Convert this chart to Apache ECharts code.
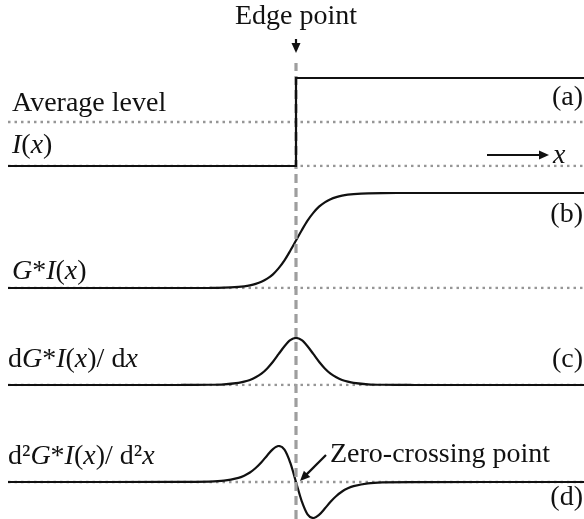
<!DOCTYPE html>
<html>
<head>
<meta charset="utf-8">
<script src="https://cdn.jsdelivr.net/npm/echarts@6/dist/echarts.min.js"></script>
<style>
  html, body { margin: 0; padding: 0; background: #fff; }
  #chart { width: 584px; height: 519px; }
</style>
</head>
<body>
<div id="chart"></div>
<script>
// x positions, edge point at 0
const xs = [-10, -4, -3, -2.5, -2, -1.8, -1.6, -1.4, -1.2, -1, -0.8, -0.6, -0.4, -0.2, 0,
  0.2, 0.4, 0.6, 0.8, 1, 1.2, 1.4, 1.6, 1.8, 2, 2.5, 3, 4, 10]
// (b) smoothed edge G*I(x)
const smoothed = [0, 0, 0.001, 0.004, 0.012, 0.018, 0.028, 0.043, 0.065, 0.098, 0.144, 0.209, 0.291, 0.392, 0.5,
  0.608, 0.709, 0.791, 0.856, 0.902, 0.935, 0.957, 0.972, 0.982, 0.988, 0.996, 0.999, 1, 1]
// (c) first derivative
const firstDeriv = [0, 0.001, 0.005, 0.015, 0.046, 0.071, 0.107, 0.164, 0.242, 0.353, 0.494, 0.661, 0.825, 0.953, 1,
  0.953, 0.825, 0.661, 0.494, 0.353, 0.242, 0.164, 0.107, 0.071, 0.046, 0.015, 0.005, 0.001, 0]
// (d) second derivative
const secondDeriv = [0, 0.001, 0.013, 0.039, 0.116, 0.177, 0.264, 0.389, 0.548, 0.738, 0.913, 1.0, 0.897, 0.535, 0,
  -0.535, -0.897, -1.0, -0.913, -0.738, -0.548, -0.389, -0.264, -0.177, -0.116, -0.039, -0.013, -0.001, 0]
// (a) ideal step I(x)
const stepX = [-10, 0, 0, 10]
const stepY = [0, 0, 1, 1]
// reference levels
const baseX = [-10, 10]
const baseLevel = [0, 0]
const avgLevel = [0.5, 0.5]
const edgeX = [0, 0]
const edgeY = [0, 1]

const pairs = (x, y) => x.map((v, i) => [v, y[i]])

const FONT = 'Liberation Serif'
const SIZE = 28
const INK = '#111'
const GREY = '#969696'

const chart = echarts.init(document.getElementById('chart'))

function dotted(idx, levels) {
  return {
    type: 'line',
    xAxisIndex: idx,
    yAxisIndex: idx,
    data: pairs(baseX, levels),
    symbol: 'none',
    silent: true,
    z: 1,
    lineStyle: { color: GREY, width: 2.5, type: [2.5, 4] }
  }
}

function curve(idx, values) {
  return {
    type: 'line',
    xAxisIndex: idx,
    yAxisIndex: idx,
    data: pairs(xs, values),
    symbol: 'none',
    smooth: 0.3,
    silent: true,
    z: 2,
    lineStyle: { color: INK, width: 2.2 }
  }
}

function label(text, x, y, align) {
  return {
    type: 'text',
    x: x,
    y: y,
    silent: true,
    style: {
      text: text,
      fontFamily: FONT,
      fontSize: SIZE,
      fill: INK,
      textAlign: align || 'left',
      textVerticalAlign: 'middle',
      rich: {
        i: { fontFamily: FONT, fontSize: SIZE, fontStyle: 'italic', fill: INK }
      }
    }
  }
}

function arrow(x1, y1, x2, y2) {
  const len = Math.hypot(x2 - x1, y2 - y1)
  const ux = (x2 - x1) / len
  const uy = (y2 - y1) / len
  const hl = 10
  const hw = 4.5
  const bx = x2 - ux * hl
  const by = y2 - uy * hl
  return [
    {
      type: 'line',
      silent: true,
      shape: { x1: x1, y1: y1, x2: bx + ux, y2: by + uy },
      style: { stroke: INK, lineWidth: 2.2 }
    },
    {
      type: 'polygon',
      silent: true,
      shape: { points: [[x2, y2], [bx - uy * hw, by + ux * hw], [bx + uy * hw, by - ux * hw]] },
      style: { fill: INK }
    }
  ]
}

const grids = [
  { left: 8, right: 0, top: 78, height: 88 },
  { left: 8, right: 0, top: 193, height: 95 },
  { left: 8, right: 0, top: 338, height: 47 },
  { left: 8, right: 0, top: 446, height: 72 },
  { left: 8, right: 0, top: 63, bottom: 0 }
]

chart.setOption({
  animation: false,
  backgroundColor: '#fff',
  grid: grids,
  xAxis: grids.map((g, i) => ({ type: 'value', gridIndex: i, min: -10, max: 10, show: false })),
  yAxis: [
    { type: 'value', gridIndex: 0, min: 0, max: 1, show: false },
    { type: 'value', gridIndex: 1, min: 0, max: 1, show: false },
    { type: 'value', gridIndex: 2, min: 0, max: 1, show: false },
    { type: 'value', gridIndex: 3, min: -1, max: 1, show: false },
    { type: 'value', gridIndex: 4, min: 0, max: 1, show: false }
  ],
  series: [
    dotted(0, baseLevel),
    dotted(0, avgLevel),
    dotted(1, baseLevel),
    dotted(2, baseLevel),
    dotted(3, baseLevel),
    curve(1, smoothed),
    curve(2, firstDeriv),
    curve(3, secondDeriv),
    {
      type: 'line',
      xAxisIndex: 4,
      yAxisIndex: 4,
      data: pairs(edgeX, edgeY),
      symbol: 'none',
      silent: true,
      z: 3,
      lineStyle: { color: '#9e9e9e', width: 3.2, type: [9, 5] }
    },
    {
      type: 'line',
      xAxisIndex: 0,
      yAxisIndex: 0,
      data: pairs(stepX, stepY),
      symbol: 'none',
      silent: true,
      z: 4,
      lineStyle: { color: INK, width: 2.2, join: 'miter', cap: 'butt' }
    }
  ],
  graphic: [
    label('Edge point', 296, 17, 'center'),
    label('Average level', 12, 104),
    label('{i|I}({i|x})', 12, 146),
    label('(a)', 583, 98, 'right'),
    label('{i|x}', 553, 156),
    label('(b)', 583, 215, 'right'),
    label('{i|G}*{i|I}({i|x})', 12, 272),
    label('d{i|G}*{i|I}({i|x})/ d{i|x}', 8, 360),
    label('(c)', 583, 360, 'right'),
    label('d²{i|G}*{i|I}({i|x})/ d²{i|x}', 8, 457),
    label('Zero-crossing point', 330, 455),
    label('(d)', 583, 498, 'right'),
    ...arrow(296, 39, 296, 53),
    ...arrow(487, 155, 549, 155),
    ...arrow(326, 455, 300, 481)
  ]
})
</script>
</body>
</html>
